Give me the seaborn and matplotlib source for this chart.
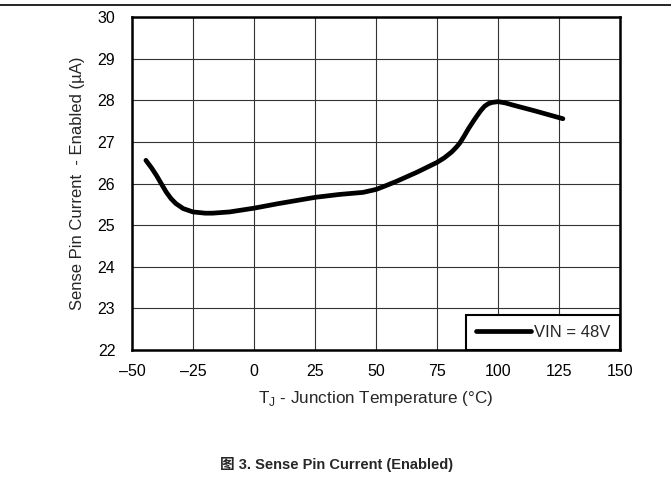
import matplotlib
matplotlib.use("Agg")
import matplotlib.pyplot as plt
import seaborn as sns
import pandas as pd
from matplotlib.lines import Line2D

temps = [-44.3, -42, -40, -38, -36, -34, -32, -29, -25, -20, -17, -10, 0, 10, 25, 35, 44.7, 50, 54, 58.6, 67, 75, 78, 81, 83, 84.4, 86, 88, 90, 91.4, 93, 94.5, 96, 97.5, 100, 103, 106, 115, 126.6]
current = [26.56, 26.38, 26.2, 26.0, 25.8, 25.64, 25.52, 25.4, 25.32, 25.29, 25.29, 25.32, 25.41, 25.52, 25.67, 25.74, 25.79, 25.86, 25.95, 26.06, 26.28, 26.51, 26.62, 26.76, 26.88, 26.98, 27.13, 27.33, 27.51, 27.63, 27.76, 27.86, 27.92, 27.95, 27.97, 27.94, 27.89, 27.75, 27.56]
series_label = "VIN = 48V"
xticks = [-50, -25, 0, 25, 50, 75, 100, 125, 150]
yticks = [22, 23, 24, 25, 26, 27, 28, 29, 30]

sns.set_style("white")
plt.rcParams['font.family'] = ['Liberation Sans', 'Noto Sans CJK SC', 'DejaVu Sans']

df = pd.DataFrame({"T": temps, "I": current, "series": series_label})

fig = plt.figure(figsize=(6.71, 4.91), dpi=100)
ax = fig.add_axes([0.1967, 0.287, 0.7273, 0.678])
sns.lineplot(data=df, x="T", y="I", hue="series", palette=["black"], linewidth=3.4,
             ax=ax, solid_capstyle="round", solid_joinstyle="round", sort=True)
ax.set_xlim(-50, 150)
ax.set_ylim(22, 30)
ax.set_xticks(xticks)
ax.set_yticks(yticks)
ax.set_xticklabels([str(t).replace('-', '\u2013') for t in xticks])
ax.set_yticklabels([str(t) for t in yticks])
ax.tick_params(axis="x", length=0, labelsize=11.5, colors="black", pad=10)
ax.tick_params(axis="y", length=0, labelsize=11.5, colors="black", pad=12)
ax.grid(True, color="#333333", linewidth=0.8)
for s in ax.spines.values():
    s.set_visible(True)
    s.set_color("black")
    s.set_linewidth(1.8)
ax.set_xlabel("T$_\\mathregular{J}$ - Junction Temperature (°C)", fontsize=12.3, labelpad=7)
ax.set_ylabel("Sense Pin Current  - Enabled (µA)", fontsize=12, labelpad=9)

leg = ax.legend(loc="lower right", borderaxespad=0, fancybox=False, framealpha=1,
                edgecolor="black", fontsize=12, handlelength=3.3, handletextpad=0.15,
                borderpad=0.6)
leg.get_frame().set_linewidth(1.5)

fig.add_artist(Line2D([0, 1], [1 - 5/491, 1 - 5/491], color="black", linewidth=1.2))
fig.text(0.502, 1 - 465/491, "图 3. Sense Pin Current (Enabled)", ha="center", va="center",
         fontsize=10.5, fontweight="bold")

fig.savefig("out.png", dpi=100)
